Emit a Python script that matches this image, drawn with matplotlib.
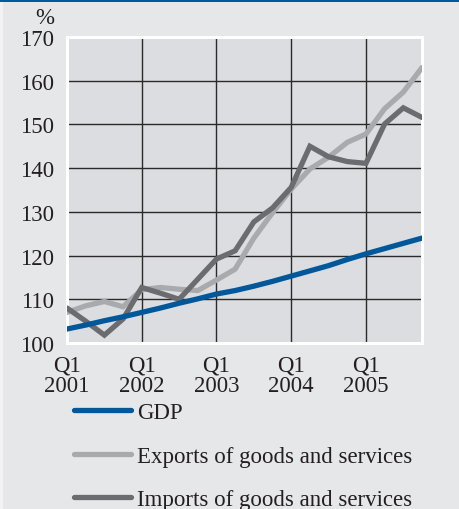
import matplotlib
matplotlib.use("Agg")
import matplotlib.pyplot as plt
from matplotlib.patches import Rectangle
import numpy as np

# Quarterly index values, Q1 2001 to Q4 2005
quarters = [f"Q{q}\n{y}" for y in range(2001, 2006) for q in range(1, 5)]
gdp = [103.2, 104.1, 105.1, 106.0, 107.0, 108.0, 109.1, 110.1,
       111.2, 112.0, 113.0, 114.1, 115.3, 116.5, 117.7, 119.1,
       120.4, 121.6, 122.8, 124.0]
exports = [107.0, 108.5, 109.5, 108.3, 112.2, 112.7, 112.3, 112.0,
           114.4, 116.9, 124.0, 129.8, 135.2, 139.8, 142.5, 145.9,
           147.8, 153.6, 157.4, 163.0]
imports = [108.0, 105.0, 101.8, 105.5, 112.7, 111.4, 110.0, 114.6,
           119.2, 121.1, 127.7, 130.9, 135.6, 145.0, 142.6, 141.5,
           141.1, 150.1, 153.8, 151.6]
series_labels = ["GDP", "Exports of goods and services",
                 "Imports of goods and services"]
y_ticks = [100, 110, 120, 130, 140, 150, 160, 170]

BG = "#e6e7e9"
PANEL = "#dcdde0"
BLUE = "#00589b"
LIGHT = "#a9aaad"
DARK = "#6b6c6f"
INK = "#231f20"

plt.rcParams["font.family"] = ["Liberation Serif", "DejaVu Serif"]
FS = 16.5
FS_PX = FS * 100 / 72

fig = plt.figure(figsize=(4.6, 5.1), dpi=100, facecolor=BG)
# thin blue rule across the top and pale strip on the left edge
fig.patches.append(Rectangle((0, 1 - 3 / 510), 1, 3 / 510, transform=fig.transFigure,
                             facecolor="#005a9c", edgecolor="none", zorder=0))
fig.patches.append(Rectangle((0, 0), 3 / 460, 1 - 3 / 510, transform=fig.transFigure,
                             facecolor="#f3f3f4", edgecolor="none", zorder=0))

ax = fig.add_axes([67 / 460, 1 - 344 / 510, (422 - 67) / 460, (344 - 38) / 510])
ax.set_facecolor(PANEL)
for s in ax.spines.values():
    s.set_color("white")
    s.set_linewidth(2.2)

x = np.arange(len(quarters))
lw = 3.8
ax.plot(x, gdp, color=BLUE, lw=lw, solid_capstyle="round", solid_joinstyle="miter",
        label=series_labels[0], zorder=5)
ax.plot(x, exports, color=LIGHT, lw=lw, solid_capstyle="round", solid_joinstyle="miter",
        label=series_labels[1], zorder=3)
ax.plot(x, imports, color=DARK, lw=lw, solid_capstyle="round", solid_joinstyle="miter",
        label=series_labels[2], zorder=4)

ax.set_xlim(0, len(quarters) - 1)
ax.set_ylim(100, 170)
ax.set_yticks(y_ticks)
ax.set_yticklabels([str(v) for v in y_ticks])
year_starts = x[::4]
ax.set_xticks(year_starts)
ax.set_xticklabels([quarters[i] for i in year_starts], linespacing=1.0)
ax.tick_params(axis="both", length=0, labelsize=FS, colors=INK)
ax.tick_params(axis="y", pad=9.5)
ax.tick_params(axis="x", pad=8)
ax.grid(True, color="#2a2a2a", lw=1.0, zorder=1)
ax.set_axisbelow(True)

fig.text(45 / 460, 1 - 19 / 510, "%", ha="center", va="center", fontsize=FS, color=INK)

handles, labels = ax.get_legend_handles_labels()
leg = fig.legend(handles, labels, loc="upper left", bbox_to_anchor=(74 / 460, 1 - 403 / 510),
                 frameon=False, fontsize=FS, handlelength=57 / FS_PX, handletextpad=6 / FS_PX,
                 labelspacing=0.98, borderaxespad=0, borderpad=0)
for t in leg.get_texts():
    t.set_color(INK)

fig.savefig("out.png", dpi=100, facecolor=BG)
